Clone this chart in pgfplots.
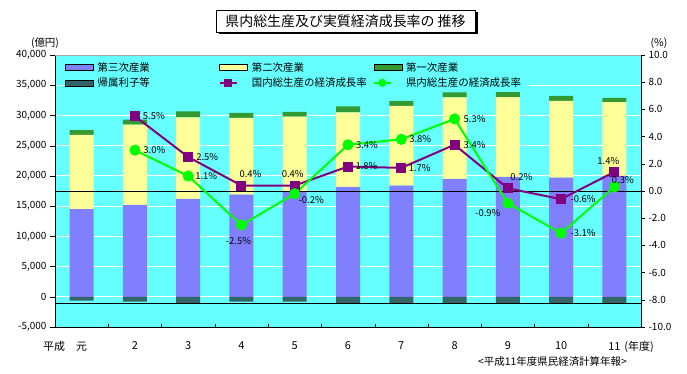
\documentclass[border=0pt]{standalone}
\usepackage{fontspec}
\setmainfont{Noto Sans CJK JP}
\usepackage{pgfplots}
\pgfplotsset{compat=1.18}
\usepackage{pgfplotstable}
\usetikzlibrary{shadows}
\pgfkeys{/pgf/number format/assume math mode=true}
\definecolor{cyanbg}{HTML}{66FFFF}
\definecolor{tert}{HTML}{8080FF}
\definecolor{seco}{HTML}{FFFF99}
\definecolor{prim}{HTML}{339933}
\definecolor{imp}{HTML}{336666}
\definecolor{nat}{HTML}{800080}
\definecolor{pref}{HTML}{00FF00}

\pgfplotstableread{
x blue yellow green dark
0 14500 12300 770 -650
1 15200 13300 820 -820
2 16200 13500 990 -1080
3 16900 12700 820 -820
4 17400 12400 770 -820
5 18200 12300 990 -1080
6 18400 13200 820 -1080
7 19500 13500 820 -1080
8 19850 13200 820 -1080
9 19700 12700 820 -1080
10 20000 12200 700 -1080
}\bars

\pgfplotstableread{
x y dx dy
1 5.5 19 0
2 2.5 19 0
3 0.4 9 12
4 0.4 -2 12
5 1.8 18.5 0
6 1.7 18.5 0
7 3.4 20 0
8 0.2 13.5 11
9 -0.6 22 0
10 1.4 -6 11
}\natdata

\pgfplotstableread{
x y dx dy
1 3.0 19.5 0
2 1.1 18 0
3 -2.5 -3 -16
4 -0.2 16.5 -6
5 3.4 19 0
6 3.8 19 0
7 5.3 20 0
8 -0.9 -20 -10
9 -3.1 22 0
10 0.3 8.5 7
}\prefdata

\pgfplotsset{
  barleg/.style={legend image code/.code={\fill[##1] (0bp,-3bp) rectangle (28bp,3bp);}},
}

\begin{document}
\begin{tikzpicture}
\path[use as bounding box] (-55bp,-47bp) rectangle (632bp,327bp);
\begin{axis}[
  scale only axis, width=586bp, height=272bp,
  xmin=-0.5, xmax=10.5, ymin=-5000, ymax=40000,
  ybar stacked, stack negative=separate, bar width=24bp,
  axis background/.style={fill=cyanbg},
  axis x line*=bottom, axis y line*=left,
  axis line style={-, black, line width=0.8bp},
  ytick={-5000,0,5000,10000,15000,20000,25000,30000,35000,40000},
  ymajorgrids, major grid style={white, line width=1bp},
  xtick={0,...,10},
  xticklabels={\llap{平成\hspace{11bp}}元,2,3,4,5,6,7,8,9,10,11\rlap{\hspace{4bp}(年度)}},
  every major x tick/.append style={draw=none},
  minor xtick={0.5,1.5,...,9.5},
  every minor x tick/.append style={black, yshift=3bp},
  minor tick length=3bp,
  tick align=outside, major tick length=5bp,
  ytick style={black},
  scaled y ticks=false,
  yticklabel style={/pgf/number format/1000 sep={,}, font=\fontsize{10}{12}\selectfont},
  xticklabel style={font=\fontsize{11}{13}\selectfont, yshift=-6bp},
]
\addplot[fill=imp, draw=none] table[x=x,y=dark]{\bars};
\addplot[fill=tert, draw=none] table[x=x,y=blue]{\bars};
\addplot[fill=seco, draw=none] table[x=x,y=yellow]{\bars};
\addplot[fill=prim, draw=none] table[x=x,y=green]{\bars};
\end{axis}

\begin{axis}[
  scale only axis, width=586bp, height=272bp,
  xmin=-0.5, xmax=10.5, ymin=-10, ymax=10,
  axis x line=none, axis y line*=right,
  axis line style={-, black, line width=0.8bp},
  ytick={-10,-8,...,10}, tick align=outside, major tick length=4bp,
  ytick style={black},
  yticklabel style={/pgf/number format/.cd, fixed, fixed zerofill, precision=1, /tikz/.cd, font=\fontsize{10}{12}\selectfont},
  legend columns=3,
  legend style={at={(0.0137,0.985)}, anchor=north west, draw=none, fill=cyanbg,
    inner xsep=2bp, inner ysep=2bp, row sep=3bp,
    font=\fontsize{10.5}{12}\selectfont,
    nodes={inner sep=1bp},
    /tikz/every odd column/.append style={column sep=3bp}},
  legend cell align=left,
]
\addlegendimage{barleg, fill=tert}
\addlegendentry{\makebox[120bp][l]{第三次産業}}
\addlegendimage{barleg, fill=seco}
\addlegendentry{\makebox[120bp][l]{第二次産業}}
\addlegendimage{barleg, fill=prim}
\addlegendentry{\makebox[120bp][l]{第一次産業}}
\addlegendimage{barleg, fill=imp}
\addlegendentry{\makebox[120bp][l]{帰属利子等}}

\addplot[black, line width=0.8bp, forget plot] coordinates {(-0.5,0) (10.5,0)};
\addplot[black, line width=0.8bp, forget plot] coordinates {(-0.5,-8.27) (10.5,-8.27)};

\addplot[nat, line width=2bp, mark=square*, mark size=4bp, mark options={solid, fill=nat, draw=nat},
  point meta=y,
  visualization depends on={\thisrow{dx}\as\mydx},
  visualization depends on={\thisrow{dy}\as\mydy},
  nodes near coords={\pgfmathprintnumber[fixed,fixed zerofill,precision=1]{\pgfplotspointmeta}\%},
  every node near coord/.append style={anchor=center, xshift=\mydx bp, yshift=\mydy bp, text=black, inner sep=0pt, font=\fontsize{9.5}{11}\selectfont},
  legend image post style={mark size=3bp}
] table[x=x,y=y]{\natdata};
\addlegendentry{\makebox[120bp][l]{国内総生産の経済成長率}}

\addplot[pref, line width=2bp, mark=*, mark size=4.5bp, mark options={solid, fill=pref, draw=pref},
  point meta=y,
  visualization depends on={\thisrow{dx}\as\mydx},
  visualization depends on={\thisrow{dy}\as\mydy},
  nodes near coords={\pgfmathprintnumber[fixed,fixed zerofill,precision=1]{\pgfplotspointmeta}\%},
  every node near coord/.append style={anchor=center, xshift=\mydx bp, yshift=\mydy bp, text=black, inner sep=0pt, font=\fontsize{9.5}{11}\selectfont},
  legend image post style={mark size=3bp}
] table[x=x,y=y]{\prefdata};
\addlegendentry{\makebox[120bp][l]{県内総生産の経済成長率}}

\draw[gray!70, line width=0.8bp] (rel axis cs:0,1) -- (rel axis cs:1,1);
\end{axis}

\node[draw=black, line width=0.8bp, fill=white, minimum width=259bp, minimum height=22bp, inner sep=0pt,
  drop shadow={shadow xshift=2.5bp, shadow yshift=-2.5bp, opacity=1, fill=black},
  font=\fontsize{14}{16}\selectfont] at (290.5bp,306bp) {県内総生産及び実質経済成長率の 推移};
\node[font=\fontsize{10.5}{12}\selectfont] at (-10bp,284bp) {(億円)};
\node[font=\fontsize{10.5}{12}\selectfont] at (604bp,284bp) {(\%)};
\node[font=\fontsize{10.5}{12}\selectfont] at (497.5bp,-35bp) {<平成11年度県民経済計算年報>};
\end{tikzpicture}
\end{document}
